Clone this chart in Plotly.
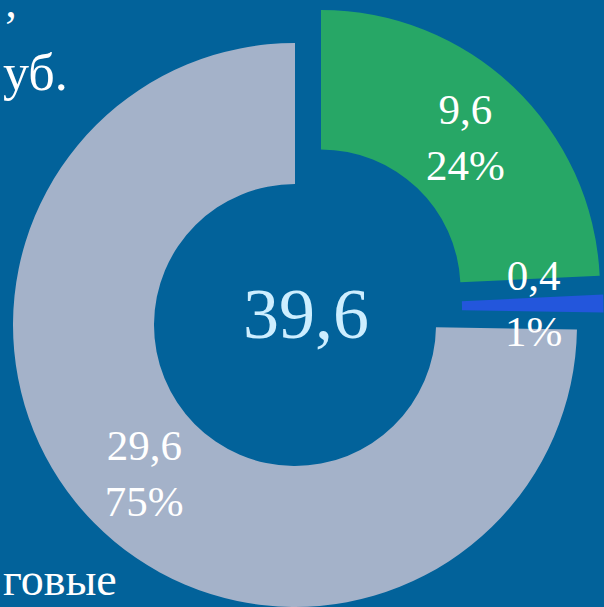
import plotly.graph_objects as go

# ---- data ----
categories = ["Налоговые и неналоговые доходы", "Прочие доходы", "Безвозмездные поступления"]
values = [9.6, 0.4, 29.6]
colors = ["#27a766", "#2356dc", "#a4b2c9"]
total = sum(values)

W, H = 604, 607
BG = "#02629a"
FONT = "Liberation Serif, Times New Roman, serif"


def dom(cx, cy, r):
    return dict(x=[(cx - r) / W, (cx + r) / W],
                y=[max(0, 1 - (cy + r) / H), min(1, 1 - (cy - r) / H)])


def fmt(v):
    return f"{v:.1f}".replace(".", ",")


fig = go.Figure()

# each slice drawn by its own pie (same values -> same angles), offset like an exploded donut
layout_spec = [
    (2, (295, 325, 282)),   # large slice
    (0, (321, 289, 279)),   # exploded slice
    (1, (320.5, 308, 283)), # thin slice
]
for idx, (cx, cy, r) in layout_spec:
    mc = [c if i == idx else "rgba(0,0,0,0)" for i, c in enumerate(colors)]
    tt = ["" for _ in values]
    if idx != 1:
        tt[idx] = "%{value:.1f}<br>%{percent:.0%}"
    fig.add_trace(go.Pie(
        labels=categories, values=values, sort=False, direction="clockwise",
        rotation=0, hole=0.5, domain=dom(cx, cy, r),
        marker=dict(colors=mc, line=dict(width=0)),
        texttemplate=tt, textposition="inside", insidetextorientation="horizontal",
        textfont=dict(family=FONT, size=43, color="white"),
        hoverinfo="label+value+percent", showlegend=False,
    ))

annotations = [
    dict(text=fmt(total), x=306 / W, y=1 - 314 / H, xref="paper", yref="paper",
         showarrow=False, font=dict(family=FONT, size=72, color="#cdeeff"),
         xanchor="center", yanchor="middle"),
    dict(text=f"{fmt(values[1])}<br>{values[1] / total * 100:.0f}%",
         x=533 / W, y=1 - 303 / H, xref="paper", yref="paper",
         showarrow=False, font=dict(family=FONT, size=43, color="white"),
         xanchor="center", yanchor="middle"),
    # fragments of slide text visible at the edges of the original
    dict(text="’", x=20 / W, y=1.0, xref="paper", yref="paper",
         showarrow=False, font=dict(family=FONT, size=46, color="white"),
         xanchor="right", yanchor="top"),
    dict(text="уб.", x=1 / W, y=1 - 73 / H, xref="paper", yref="paper",
         showarrow=False, font=dict(family=FONT, size=52, color="white"),
         xanchor="left", yanchor="middle"),
    dict(text="говые", x=1 / W, y=0.0, xref="paper", yref="paper",
         showarrow=False, font=dict(family=FONT, size=46, color="white"),
         xanchor="left", yanchor="bottom"),
]

fig.update_layout(
    width=W, height=H, margin=dict(l=0, r=0, t=0, b=0),
    paper_bgcolor=BG, plot_bgcolor=BG, separators=", ",
    annotations=annotations,
)

fig.write_html("out.html", config={"displayModeBar": False})

# remove the default page margin so the figure fills the window
with open("out.html", encoding="utf-8") as f:
    html = f.read()
html = html.replace(
    "<head>",
    "<head><style>html,body{margin:0;padding:0;overflow:hidden;background:%s}</style>" % BG,
    1,
)
with open("out.html", "w", encoding="utf-8") as f:
    f.write(html)
